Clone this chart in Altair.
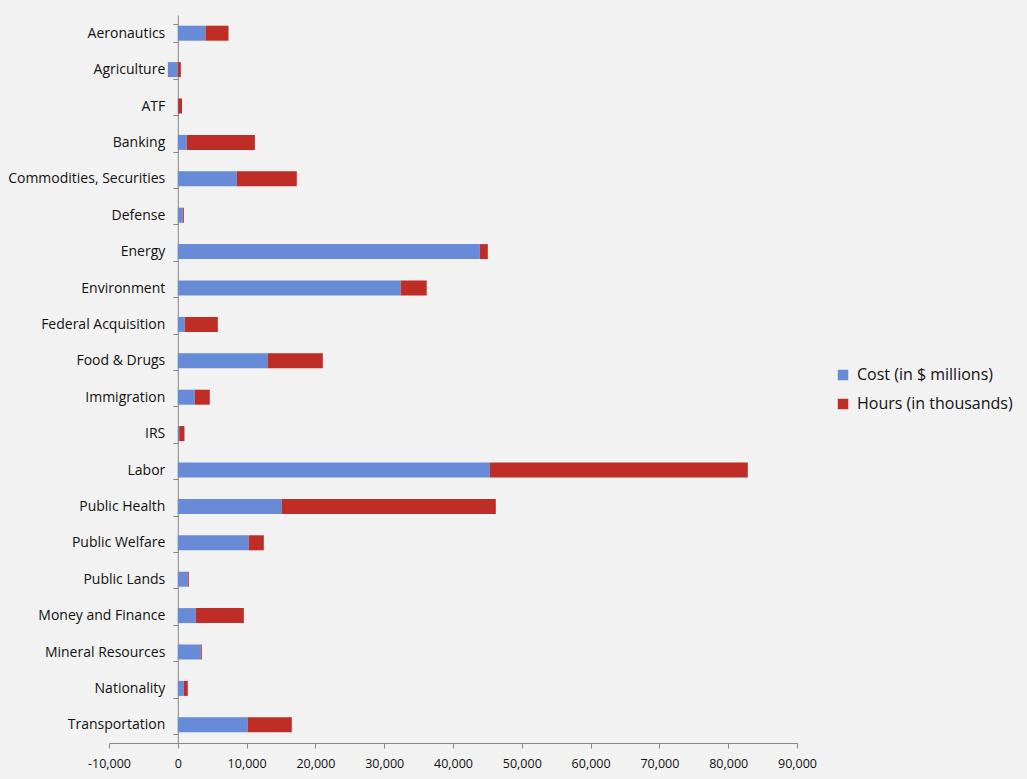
import altair as alt
import pandas as pd

categories = ["Aeronautics", "Agriculture", "ATF", "Banking", "Commodities, Securities",
              "Defense", "Energy", "Environment", "Federal Acquisition", "Food & Drugs",
              "Immigration", "IRS", "Labor", "Public Health", "Public Welfare",
              "Public Lands", "Money and Finance", "Mineral Resources", "Nationality",
              "Transportation"]
cost = [4030, -1450, 60, 1310, 8580, 730, 43900, 32400, 1020, 13080,
        2470, 200, 45350, 15120, 10320, 1450, 2620, 3340, 870, 10170]
hours = [3340, 440, 550, 9900, 8720, 150, 1160, 3780, 4800, 8000,
         2180, 770, 37500, 31100, 2180, 150, 6980, 150, 580, 6400]
series = ["Cost (in $ millions)", "Hours (in thousands)"]
colors = ["#678BD6", "#BE2D26"]
x_ticks = [-10000, 0, 10000, 20000, 30000, 40000, 50000, 60000, 70000, 80000, 90000]

rows = []
for c, a, b in zip(categories, cost, hours):
    rows.append({"cat": c, "series": series[0], "value": a, "ord": 0})
    rows.append({"cat": c, "series": series[1], "value": b, "ord": 1})
df = pd.DataFrame(rows)

W, H = 688, 728
font = "Open Sans"

chart = alt.Chart(df).mark_bar(size=15).encode(
    y=alt.Y("cat:N", sort=categories, title=None,
            scale=alt.Scale(paddingInner=0.5, paddingOuter=0.25),
            axis=alt.Axis(offset=-68.8, tickBand="extent", tickSize=5, tickColor="#888888",
                          domainColor="#888888", labelFont=font, labelFontSize=14,
                          labelColor="#111111", labelPadding=8, grid=False)),
    x=alt.X("value:Q", stack="zero", title=None,
            scale=alt.Scale(domain=[-10000, 90000], nice=False, zero=False),
            axis=alt.Axis(values=x_ticks, tickSize=5, tickColor="#888888", labelFlush=False,
                          labelExpr="replace(format(datum.value, ',.0f'), '\u2212', '-')",
                          domainColor="#888888", labelFont=font, labelFontSize=12.5,
                          labelColor="#111111", labelPadding=9, grid=False)),
    color=alt.Color("series:N", scale=alt.Scale(domain=series, range=colors),
                    legend=alt.Legend(title=None, orient="none", legendX=726, legendY=352,
                                      symbolType="square", symbolSize=110, symbolStrokeWidth=0,
                                      labelFont=font, labelFontSize=16, labelColor="#111111",
                                      rowPadding=13, labelOffset=6)),
    order=alt.Order("ord:Q"),
).properties(
    width=W, height=H,
    background="#F2F2F2",
    padding={"left": 109, "top": 15, "right": 230, "bottom": 36},
    autosize=alt.AutoSizeParams(type="none"),
).configure_view(stroke=None)

chart.save("out.html", embed_options={"renderer": "svg", "actions": False})
